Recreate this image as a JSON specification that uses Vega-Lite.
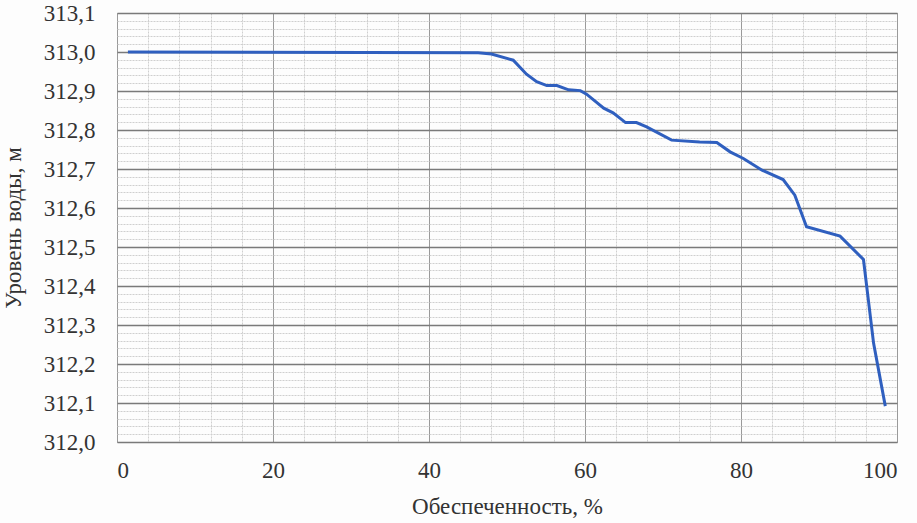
{
  "$schema": "https://vega.github.io/schema/vega-lite/v6.json",
  "autosize": {"type": "none"},
  "padding": {"left": 117, "top": 13, "right": 20, "bottom": 81},
  "width": 780,
  "height": 429,
  "background": "#fdfdfd",
  "config": {
    "view": {"stroke": "#a8a8a8", "strokeWidth": 1},
    "font": "Liberation Serif",
    "axis": {"labelColor": "#333333", "titleColor": "#333333", "titleFontWeight": "normal"}
  },
  "data": {
    "values": [
      {"p": 1.4, "h": 313.0},
      {"p": 46.3, "h": 312.998},
      {"p": 48.0, "h": 312.995},
      {"p": 50.8, "h": 312.979},
      {"p": 52.5, "h": 312.943},
      {"p": 53.8, "h": 312.924},
      {"p": 55.1, "h": 312.914},
      {"p": 56.4, "h": 312.914},
      {"p": 57.9, "h": 312.903},
      {"p": 59.4, "h": 312.901},
      {"p": 60.2, "h": 312.892},
      {"p": 62.4, "h": 312.856},
      {"p": 63.6, "h": 312.844},
      {"p": 65.2, "h": 312.819},
      {"p": 66.6, "h": 312.819},
      {"p": 67.9, "h": 312.808},
      {"p": 71.1, "h": 312.774},
      {"p": 74.7, "h": 312.769},
      {"p": 76.9, "h": 312.768},
      {"p": 78.6, "h": 312.744},
      {"p": 80.3, "h": 312.727},
      {"p": 82.7, "h": 312.697},
      {"p": 85.4, "h": 312.673},
      {"p": 86.9, "h": 312.633},
      {"p": 88.4, "h": 312.552},
      {"p": 92.7, "h": 312.528},
      {"p": 95.7, "h": 312.468},
      {"p": 97.0, "h": 312.253},
      {"p": 98.5, "h": 312.092}
    ]
  },
  "layer": [
    {
      "mark": {"type": "line", "opacity": 0},
      "encoding": {
        "x": {"field": "p", "type": "quantitative", "scale": {"domain": [0, 100], "nice": false, "zero": false},
          "axis": {"orient": "bottom", "values": [4,8,12,16,24,28,32,36,44,48,52,56,64,68,72,76,84,88,92,96], "labels": false, "ticks": false, "domain": false, "title": null, "grid": true, "gridColor": "#cfcfcf", "gridWidth": 1, "gridDash": [2, 1]}},
        "y": {"field": "h", "type": "quantitative", "scale": {"domain": [312.0, 313.1], "nice": false, "zero": false},
          "axis": {"orient": "left", "values": [312.02,312.04,312.06,312.08,312.12,312.14,312.16,312.18,312.22,312.24,312.26,312.28,312.32,312.34,312.36,312.38,312.42,312.44,312.46,312.48,312.52,312.54,312.56,312.58,312.62,312.64,312.66,312.68,312.72,312.74,312.76,312.78,312.82,312.84,312.86,312.88,312.92,312.94,312.96,312.98,313.02,313.04,313.06,313.08], "labels": false, "ticks": false, "domain": false, "title": null, "grid": true, "gridColor": "#cfcfcf", "gridWidth": 1, "gridDash": [2, 1]}}
      }
    },
    {
      "mark": {"type": "line", "color": "#2f5fbf", "strokeWidth": 3, "interpolate": "linear"},
      "encoding": {
        "x": {"field": "p", "type": "quantitative", "scale": {"domain": [0, 100], "nice": false, "zero": false},
          "axis": {"orient": "bottom", "values": [0, 20, 40, 60, 80, 100], "ticks": false, "domain": false, "grid": true, "gridColor": "#9a9a9a", "gridWidth": 1, "labelFont": "Liberation Serif", "titleFont": "Liberation Serif", "labelFontSize": 23, "labelPadding": 17, "title": "Обеспеченность, %", "titleFontSize": 23, "titlePadding": 13}},
        "y": {"field": "h", "type": "quantitative", "scale": {"domain": [312.0, 313.1], "nice": false, "zero": false},
          "axis": {"orient": "left", "values": [312.0, 312.1, 312.2, 312.3, 312.4, 312.5, 312.6, 312.7, 312.8, 312.9, 313.0, 313.1], "labelExpr": "replace(format(datum.value, '.1f'), '.', ',')", "ticks": false, "domain": false, "grid": true, "gridColor": "#7a7a7a", "gridWidth": 1.5, "labelFont": "Liberation Serif", "titleFont": "Liberation Serif", "labelFontSize": 23, "labelPadding": 22, "title": "Уровень воды, м", "titleFontSize": 23, "titlePadding": 18}}
      }
    }
  ],
  "resolve": {"axis": {"x": "independent", "y": "independent"}}
}
